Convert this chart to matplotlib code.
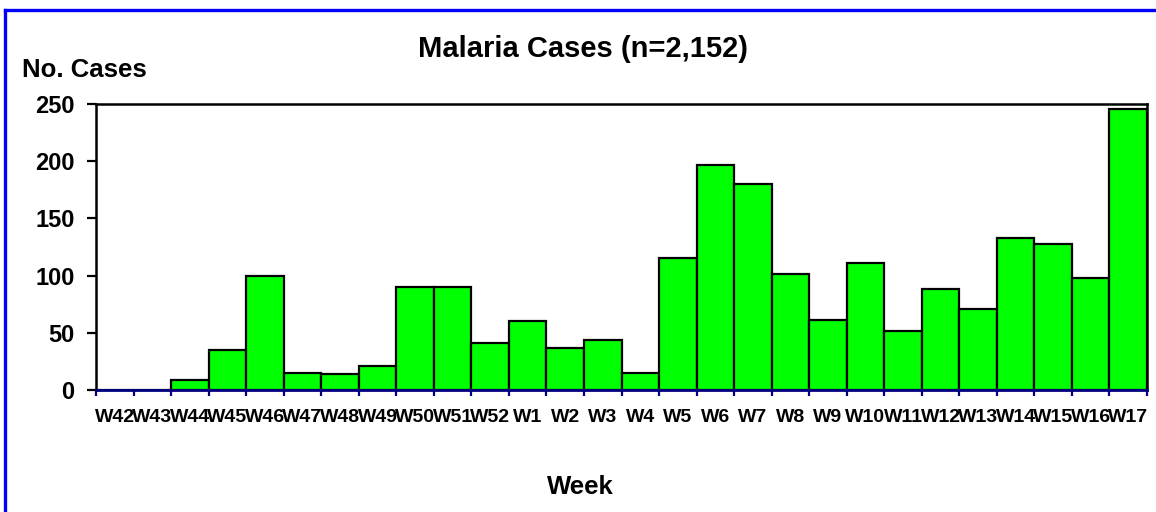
import matplotlib
matplotlib.use("Agg")
import matplotlib.pyplot as plt
from matplotlib.lines import Line2D
import numpy as np

weeks = ["W42", "W43", "W44", "W45", "W46", "W47", "W48", "W49", "W50", "W51", "W52",
         "W1", "W2", "W3", "W4", "W5", "W6", "W7", "W8", "W9", "W10", "W11", "W12",
         "W13", "W14", "W15", "W16", "W17"]
cases = [0, 0, 9, 35, 100, 15, 14, 21, 90, 90, 41, 60, 37, 44, 15, 115, 197, 180,
         101, 61, 111, 52, 88, 71, 133, 128, 98, 246]
yticks = [0, 50, 100, 150, 200, 250]

plt.rcParams['font.family'] = ['Liberation Sans', 'DejaVu Sans']
plt.rcParams['font.weight'] = 'bold'

W, H = 1156, 512
fig = plt.figure(figsize=(W / 100, H / 100), dpi=100)
ax = fig.add_axes([96 / W, 1 - 390 / H, (1147 - 96) / W, (390 - 104) / H])

x = np.arange(len(weeks))
ax.bar(x, cases, width=1.0, color="#00FF00", edgecolor="black", linewidth=1.6, zorder=2)

ax.set_xlim(-0.5, len(weeks) - 0.5)
ax.set_ylim(0, 250)
ax.set_yticks(yticks)
ax.set_yticklabels([str(v) for v in yticks], fontsize=17, fontweight='bold')
ax.tick_params(axis='y', direction='out', length=6.5, width=1.6, color='black', pad=9)

ax.set_xticks(x)
ax.set_xticklabels(weeks, fontsize=14, fontweight='bold')
ax.tick_params(axis='x', which='major', length=0, pad=14)
ax.set_xticks(np.arange(len(weeks) + 1) - 0.5, minor=True)
ax.tick_params(axis='x', which='minor', direction='out', length=4.5, width=1.6, color='#000080')

for s in ['left', 'top', 'right']:
    ax.spines[s].set_color('black')
    ax.spines[s].set_linewidth(1.8)
ax.spines['bottom'].set_color('#000080')
ax.spines['bottom'].set_linewidth(2.0)
ax.spines['bottom'].set_zorder(3)

fig.text(583 / W, 1 - 57 / H, "Malaria Cases (n=2,152)", ha='center', va='baseline',
         fontsize=21, fontweight='bold')
fig.text(22 / W, 1 - 77 / H, "No. Cases", ha='left', va='baseline',
         fontsize=18.5, fontweight='bold')
fig.text(580 / W, 1 - 494 / H, "Week", ha='center', va='baseline',
         fontsize=18.5, fontweight='bold')

# blue chart-area border (left and top visible)
fig.add_artist(Line2D([5 / W, 5 / W], [1 - 9.5 / H, -0.1], transform=fig.transFigure,
                      color='#0000FF', linewidth=2.4, solid_capstyle='projecting'))
fig.add_artist(Line2D([5 / W, 1.1], [1 - 9.5 / H, 1 - 9.5 / H], transform=fig.transFigure,
                      color='#0000FF', linewidth=2.4, solid_capstyle='projecting'))

fig.savefig("out.png", dpi=100)
